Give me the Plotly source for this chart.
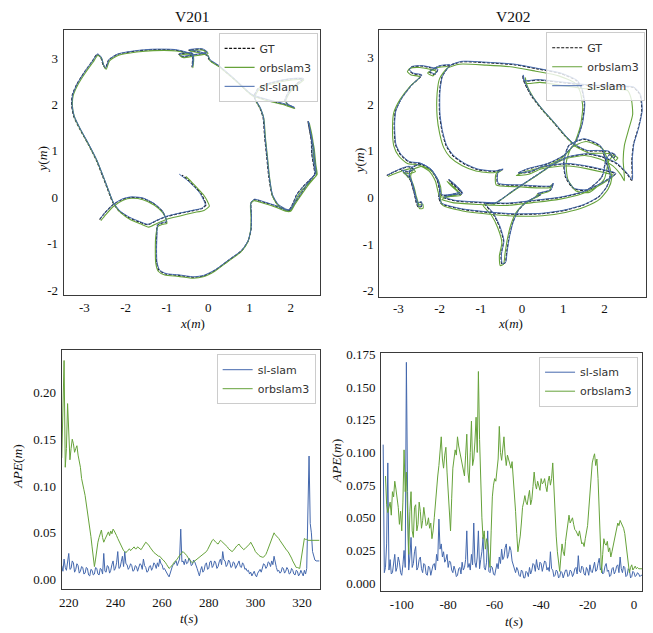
import plotly.graph_objects as go

# ---------------- trajectory data (x, y in metres) ----------------
V201_GT = [(-2.63,-0.48),(-2.51,-0.34),(-2.31,-0.16),(-2.07,-0.04),(-1.87,0.00),(-1.59,-0.02),(-1.31,-0.14),(-1.11,-0.30),(-1.03,-0.44),(-1.01,-0.53),(-1.11,-0.55),(-1.23,-0.60),
(-1.25,-0.83),(-1.26,-1.11),(-1.25,-1.40),(-1.19,-1.57),(-1.03,-1.65),(-0.71,-1.68),(-0.35,-1.72),(-0.11,-1.69),(0.17,-1.57),(0.49,-1.36),(0.81,-1.15),(0.97,-0.94),(1.04,-0.69),(1.05,-0.41),(1.04,-0.12),(1.12,-0.05),(1.37,-0.11),(1.65,-0.19),(1.89,-0.28),(2.00,-0.27),
(2.10,-0.12),(2.26,0.09),(2.42,0.30),(2.58,0.50),(2.56,0.66),(2.51,0.94),(2.50,1.22),(2.46,1.43),(2.42,1.63),(2.47,1.40),(2.54,1.08),(2.58,0.73),(2.60,0.51),(2.50,0.41),(2.30,0.23),(2.14,0.05),(2.06,-0.12),(1.95,-0.28),
(1.69,-0.16),(1.55,0.05),(1.47,0.44),(1.42,0.87),(1.37,1.29),(1.33,1.72),(1.25,1.93),(1.13,2.11),(1.12,2.20),(1.21,2.34),(1.37,2.42),(1.69,2.50),(2.02,2.55),(2.30,2.55),(2.14,2.44),(1.95,2.27),(1.86,2.08),(1.94,1.99),(2.08,1.93),(1.86,2.00),(1.46,2.09),(1.05,2.21),(0.65,2.53),(0.25,2.83),(0.03,2.96),
(-0.03,3.06),(-0.23,3.13),(-0.47,3.17),(-0.15,3.19),(-0.03,3.12),(-0.39,3.06),(-0.63,3.03),(-0.71,3.08),(-0.39,3.10),(-0.37,2.99),(-0.39,2.81),(-0.39,3.06),(-0.79,3.17),
(-1.35,3.18),(-1.75,3.15),(-2.19,3.08),(-2.41,2.96),(-2.49,2.78),(-2.55,2.86),(-2.60,3.01),(-2.69,3.08),(-2.81,2.93),(-2.99,2.71),(-3.18,2.44),(-3.29,2.21),(-3.31,2.00),(-3.26,1.75),(-3.11,1.47),(-2.91,1.15),(-2.71,0.80),(-2.55,0.44),(-2.43,0.16),(-2.31,-0.11),(-2.15,-0.30),(-1.91,-0.44),(-1.67,-0.53),(-1.47,-0.59),(-1.27,-0.51),(-1.03,-0.42),(-0.71,-0.35),(-0.39,-0.29),(-0.15,-0.24),(-0.05,-0.16),(-0.10,-0.05),(-0.17,0.08),(-0.31,0.22),(-0.47,0.36),(-0.63,0.48)]

V201_SL = [(-2.62,-0.46),(-2.50,-0.33),(-2.30,-0.15),(-2.07,-0.03),(-1.87,0.01),(-1.59,-0.01),(-1.31,-0.13),(-1.11,-0.29),(-1.03,-0.43),(-1.01,-0.52),(-1.10,-0.54),(-1.22,-0.59),
(-1.24,-0.82),(-1.25,-1.10),(-1.24,-1.39),(-1.18,-1.56),(-1.02,-1.64),(-0.70,-1.67),(-0.35,-1.71),(-0.11,-1.68),(0.17,-1.56),(0.49,-1.35),(0.81,-1.14),(0.97,-0.93),(1.04,-0.68),(1.05,-0.40),(1.04,-0.11),(1.12,-0.04),(1.37,-0.10),(1.65,-0.18),(1.89,-0.27),(2.00,-0.26),
(2.10,-0.11),(2.26,0.10),(2.42,0.31),(2.59,0.51),(2.57,0.67),(2.52,0.95),(2.51,1.23),(2.47,1.44),(2.43,1.64),(2.48,1.41),(2.55,1.09),(2.59,0.74),(2.61,0.52),(2.51,0.42),(2.31,0.24),(2.15,0.06),(2.07,-0.11),(1.96,-0.27),
(1.70,-0.15),(1.56,0.06),(1.48,0.45),(1.43,0.88),(1.38,1.30),(1.34,1.73),(1.26,1.94),(1.14,2.12),(1.13,2.21),(1.22,2.35),(1.38,2.43),(1.70,2.51),(2.03,2.56),(2.31,2.56),(2.15,2.45),(1.96,2.28),(1.87,2.09),(1.95,2.00),(2.09,1.94),(1.87,2.01),(1.47,2.10),(1.06,2.22),(0.66,2.54),(0.26,2.84),(0.04,2.97),
(-0.02,3.07),(-0.22,3.14),(-0.46,3.18),(-0.14,3.20),(-0.02,3.13),(-0.38,3.07),(-0.62,3.04),(-0.70,3.09),(-0.38,3.11),(-0.36,3.00),(-0.38,2.82),(-0.38,3.07),(-0.78,3.18),
(-1.34,3.19),(-1.74,3.16),(-2.18,3.09),(-2.40,2.97),(-2.48,2.79),(-2.54,2.87),(-2.59,3.02),(-2.68,3.09),(-2.80,2.94),(-2.98,2.72),(-3.17,2.45),(-3.28,2.22),(-3.30,2.01),(-3.25,1.76),(-3.10,1.48),(-2.90,1.16),(-2.70,0.81),(-2.54,0.45),(-2.42,0.17),(-2.30,-0.10),(-2.14,-0.29),(-1.90,-0.43),(-1.66,-0.52),(-1.46,-0.58),(-1.26,-0.50),(-1.02,-0.41),(-0.70,-0.34),(-0.38,-0.28),(-0.14,-0.23),(-0.07,-0.15),(-0.12,-0.04),(-0.20,0.09),(-0.35,0.24),(-0.52,0.38),(-0.70,0.50)]

V201_ORB = [(-2.60,-0.50),(-2.48,-0.37),(-2.29,-0.19),(-2.06,-0.06),(-1.86,-0.02),(-1.58,-0.05),(-1.30,-0.17),(-1.10,-0.33),(-1.02,-0.47),(-1.00,-0.56),(-1.10,-0.58),(-1.22,-0.63),
(-1.27,-0.85),(-1.28,-1.12),(-1.27,-1.41),(-1.21,-1.59),(-1.05,-1.67),(-0.72,-1.70),(-0.36,-1.74),(-0.12,-1.71),(0.16,-1.59),(0.48,-1.38),(0.80,-1.17),(0.96,-0.96),(1.03,-0.71),(1.04,-0.43),(1.03,-0.14),(1.11,-0.07),(1.36,-0.13),(1.64,-0.21),(1.88,-0.30),(2.00,-0.30),
(2.11,-0.14),(2.27,0.07),(2.44,0.28),(2.62,0.48),(2.60,0.64),(2.55,0.92),(2.54,1.20),(2.50,1.41),(2.45,1.60),(2.50,1.37),(2.57,1.05),(2.61,0.70),(2.64,0.49),(2.53,0.39),(2.33,0.21),(2.17,0.03),(2.08,-0.14),(1.97,-0.30),
(1.70,-0.18),(1.56,0.03),(1.49,0.42),(1.44,0.85),(1.39,1.27),(1.35,1.70),(1.27,1.91),(1.15,2.09),(1.14,2.18),(1.23,2.32),(1.39,2.40),(1.71,2.48),(2.04,2.53),(2.32,2.53),(2.16,2.42),(1.97,2.25),(1.88,2.06),(1.96,1.97),(2.10,1.91),(1.88,1.98),(1.48,2.07),(1.07,2.19),(0.67,2.51),(0.27,2.81),(0.05,2.94),
(0.00,3.05),(-0.21,3.11),(-0.45,3.15),(-0.13,3.17),(0.00,3.10),(-0.37,3.04),(-0.61,3.01),(-0.69,3.06),(-0.37,3.08),(-0.35,2.97),(-0.37,2.79),(-0.37,3.04),(-0.77,3.15),
(-1.33,3.16),(-1.73,3.13),(-2.17,3.06),(-2.39,2.94),(-2.47,2.76),(-2.53,2.84),(-2.58,2.99),(-2.67,3.06),(-2.79,2.91),(-2.97,2.69),(-3.16,2.42),(-3.27,2.19),(-3.29,1.98),(-3.24,1.73),(-3.09,1.45),(-2.89,1.13),(-2.69,0.78),(-2.53,0.42),(-2.41,0.14),(-2.29,-0.13),(-2.12,-0.33),(-1.88,-0.48),(-1.64,-0.57),(-1.44,-0.64),(-1.24,-0.56),(-1.00,-0.47),(-0.68,-0.40),(-0.36,-0.33),(-0.10,-0.28),(0.03,-0.19),(-0.02,-0.08),(-0.10,0.04),(-0.25,0.19),(-0.40,0.33),(-0.54,0.45)]

V202_GT = [(-3.28,0.47),(-3.10,0.55),(-2.92,0.62),(-2.75,0.66),(-2.62,0.60),(-2.78,0.55),(-2.92,0.58),(-2.80,0.48),(-2.70,0.36),(-2.64,0.20),(-2.60,0.03),(-2.57,-0.10),(-2.52,-0.20),(-2.44,-0.19),(-2.45,-0.10),(-2.53,-0.12),(-2.60,0.05),(-2.68,0.30),(-2.74,0.50),(-2.68,0.64),
(-2.44,0.71),(-2.20,0.58),(-2.05,0.37),(-2.00,0.16),(-2.02,0.01),
(-1.96,-0.13),(-1.48,-0.25),(-0.83,-0.32),(-0.19,-0.36),(0.45,-0.35),(1.01,-0.28),(1.49,-0.16),(1.85,0.01),(2.05,0.23),(2.13,0.44),
(2.06,0.70),(1.89,1.10),(1.49,1.25),(1.13,1.11),(1.01,0.79),(1.05,0.44),(1.25,0.19),(1.57,0.16),(1.93,0.44),(2.04,0.83),(2.16,0.95),(2.26,0.90),(2.20,0.84),
(2.10,0.98),(1.81,1.00),(1.57,1.00),(1.25,1.14),(1.01,1.35),(0.77,1.60),(0.45,1.92),(0.21,2.20),(0.05,2.48),(0.02,2.62),(0.04,2.50),
(0.37,2.52),(0.93,2.47),(1.57,2.41),(2.22,2.38),(2.70,2.36),(2.86,2.20),(2.90,1.85),(2.82,1.50),(2.70,1.14),(2.66,0.79),(2.66,0.37),
(2.54,0.51),(2.30,0.72),(1.97,0.86),(1.57,0.93),(1.09,0.86),(0.77,0.72),(0.29,0.44),(-0.19,0.16),(-0.67,-0.13),(-0.91,-0.13),
(-0.71,-0.34),(-0.55,-0.62),(-0.45,-0.94),(-0.51,-1.22),(-0.49,-1.43),(-0.41,-1.40),(-0.37,-1.15),(-0.31,-0.83),(-0.23,-0.55),(-0.11,-0.30),(0.06,-0.13),(0.37,0.03),(0.45,0.06),(0.38,0.08),(0.69,0.16),(0.75,0.30),
(0.70,0.24),(-0.03,0.26),(-0.59,0.30),(-0.59,0.54),(-0.47,0.60),
(-0.67,0.56),(-1.08,0.60),(-1.40,0.72),(-1.68,0.90),(-1.84,1.11),(-1.94,1.42),(-2.00,1.78),(-2.00,2.27),(-1.94,2.59),(-1.76,2.82),(-1.48,2.91),(-0.83,2.89),(-0.19,2.85),(0.37,2.76),(0.93,2.66),(1.33,2.50),(1.45,2.31),(1.51,1.99),(1.45,1.57),(1.29,1.18),(1.01,0.90),(0.61,0.72),(0.13,0.61),(-0.10,0.52),(0.20,0.55),(0.50,0.66),
(1.10,0.72),(1.60,0.66),(2.00,0.58),(2.26,0.51),
(1.97,0.33),(1.49,0.12),(0.93,0.00),(0.29,-0.07),(-0.35,-0.13),(-1.00,-0.11),(-1.64,-0.07),(-1.90,0.00),
(-1.70,0.05),(-1.45,0.08),(-1.55,0.20),(-1.78,0.38),(-1.70,0.30),(-1.50,0.12),
(-1.95,0.05),(-2.06,0.38),(-2.22,0.60),(-2.48,0.73),(-2.74,0.76),(-2.95,0.92),(-3.07,1.14),(-3.10,1.57),(-3.07,1.85),(-2.92,2.13),(-2.68,2.41),(-2.44,2.62),(-2.65,2.66),(-2.74,2.73),(-2.68,2.80),(-2.44,2.82),(-2.20,2.78),(-2.05,2.74),(-2.12,2.64),(-2.25,2.70),(-2.00,2.82),(-1.76,2.84)]

V202_SL = [(-3.27,0.48),(-3.09,0.56),(-2.91,0.63),(-2.74,0.67),(-2.61,0.61),(-2.77,0.56),(-2.91,0.59),(-2.79,0.49),(-2.69,0.37),(-2.63,0.21),(-2.59,0.04),(-2.56,-0.09),(-2.51,-0.19),(-2.43,-0.18),(-2.44,-0.09),(-2.52,-0.11),(-2.59,0.06),(-2.67,0.31),(-2.73,0.51),(-2.67,0.65),
(-2.43,0.72),(-2.19,0.59),(-2.04,0.38),(-1.99,0.17),(-2.01,0.02),
(-1.95,-0.12),(-1.47,-0.24),(-0.82,-0.31),(-0.18,-0.35),(0.46,-0.34),(1.02,-0.27),(1.50,-0.15),(1.86,0.02),(2.06,0.24),(2.14,0.45),
(2.07,0.71),(1.90,1.11),(1.50,1.26),(1.14,1.12),(1.02,0.80),(1.06,0.45),(1.26,0.20),(1.58,0.17),(1.94,0.45),(2.05,0.84),(2.17,0.96),(2.27,0.91),(2.21,0.85),
(2.11,0.99),(1.82,1.01),(1.58,1.01),(1.26,1.15),(1.02,1.36),(0.78,1.61),(0.46,1.93),(0.22,2.21),(0.06,2.49),(0.03,2.63),(0.05,2.51),
(0.38,2.53),(0.94,2.48),(1.58,2.42),(2.23,2.39),(2.71,2.37),(2.87,2.21),(2.91,1.86),(2.83,1.51),(2.71,1.15),(2.67,0.80),(2.67,0.38),
(2.55,0.52),(2.31,0.73),(1.98,0.87),(1.58,0.94),(1.10,0.87),(0.78,0.73),(0.30,0.45),(-0.18,0.17),(-0.66,-0.12),(-0.90,-0.12),
(-0.70,-0.33),(-0.54,-0.61),(-0.44,-0.93),(-0.50,-1.21),(-0.48,-1.42),(-0.40,-1.39),(-0.36,-1.14),(-0.30,-0.82),(-0.22,-0.54),(-0.10,-0.29),(0.07,-0.12),(0.38,0.04),(0.46,0.07),(0.39,0.09),(0.70,0.17),(0.76,0.31),
(0.71,0.25),(-0.02,0.27),(-0.58,0.31),(-0.58,0.55),(-0.46,0.61),
(-0.66,0.57),(-1.07,0.61),(-1.39,0.73),(-1.67,0.91),(-1.83,1.12),(-1.93,1.43),(-1.99,1.79),(-1.99,2.28),(-1.93,2.60),(-1.75,2.83),(-1.47,2.92),(-0.82,2.90),(-0.18,2.86),(0.38,2.77),(0.94,2.67),(1.34,2.51),(1.46,2.32),(1.52,2.00),(1.46,1.58),(1.30,1.19),(1.02,0.91),(0.62,0.73),(0.14,0.62),(-0.09,0.53),(0.21,0.56),(0.51,0.67),
(1.11,0.73),(1.61,0.67),(2.01,0.59),(2.27,0.52),
(1.98,0.34),(1.50,0.13),(0.94,0.01),(0.30,-0.06),(-0.34,-0.12),(-0.99,-0.10),(-1.63,-0.06),(-1.89,0.01),
(-1.69,0.06),(-1.44,0.09),(-1.54,0.21),(-1.77,0.39),(-1.69,0.31),(-1.49,0.13),
(-1.94,0.06),(-2.05,0.39),(-2.21,0.61),(-2.47,0.74),(-2.73,0.77),(-2.94,0.93),(-3.06,1.15),(-3.09,1.58),(-3.06,1.86),(-2.91,2.14),(-2.67,2.42),(-2.43,2.63),(-2.64,2.67),(-2.73,2.74),(-2.67,2.81),(-2.43,2.83),(-2.19,2.79),(-2.04,2.75),(-2.11,2.65),(-2.24,2.71),(-1.99,2.83),(-1.75,2.85)]

V202_ORB = [(-3.25,0.45),(-3.06,0.52),(-2.88,0.58),(-2.70,0.62),(-2.58,0.56),(-2.74,0.51),(-2.88,0.54),(-2.76,0.44),(-2.66,0.32),(-2.60,0.16),(-2.56,-0.01),(-2.53,-0.14),(-2.48,-0.24),(-2.40,-0.23),(-2.41,-0.14),(-2.49,-0.16),(-2.56,0.01),(-2.64,0.26),(-2.70,0.46),(-2.64,0.60),
(-2.40,0.67),(-2.16,0.54),(-2.01,0.33),(-1.96,0.12),(-1.98,-0.03),
(-1.92,-0.17),(-1.44,-0.29),(-0.79,-0.36),(-0.15,-0.40),(0.49,-0.39),(1.05,-0.32),(1.53,-0.20),(1.89,-0.03),(2.09,0.19),(2.17,0.40),
(2.12,0.66),(1.95,1.05),(1.55,1.20),(1.19,1.06),(1.07,0.74),(1.11,0.39),(1.31,0.14),(1.63,0.11),(1.99,0.39),(2.10,0.78),(2.22,0.90),(2.32,0.85),(2.26,0.79),
(2.16,0.93),(1.87,0.95),(1.63,0.95),(1.31,1.09),(1.07,1.30),(0.83,1.55),(0.51,1.87),(0.27,2.15),(0.11,2.43),(0.08,2.57),(0.10,2.45),
(0.43,2.47),(0.99,2.40),(1.60,2.33),(2.20,2.32),(2.55,2.30),(2.65,2.10),(2.68,1.78),(2.58,1.45),(2.48,1.12),(2.45,0.80),(2.48,0.36),
(2.40,0.48),(2.20,0.68),(1.90,0.82),(1.52,0.90),(1.05,0.83),(0.73,0.69),(0.25,0.41),(-0.23,0.13),(-0.71,-0.16),(-0.95,-0.16),
(-0.75,-0.37),(-0.59,-0.65),(-0.49,-0.97),(-0.55,-1.25),(-0.53,-1.46),(-0.45,-1.43),(-0.41,-1.18),(-0.35,-0.86),(-0.27,-0.58),(-0.15,-0.33),(0.02,-0.16),(0.33,0.00),(0.41,0.03),(0.34,0.05),(0.65,0.13),(0.71,0.27),
(0.66,0.21),(-0.07,0.23),(-0.63,0.27),(-0.63,0.51),(-0.51,0.57),
(-0.71,0.53),(-1.12,0.57),(-1.45,0.68),(-1.74,0.86),(-1.90,1.07),(-2.00,1.38),(-2.06,1.74),(-2.06,2.23),(-2.00,2.55),(-1.82,2.77),(-1.52,2.86),(-0.87,2.84),(-0.23,2.80),(0.33,2.71),(0.89,2.61),(1.29,2.45),(1.41,2.26),(1.47,1.94),(1.41,1.52),(1.25,1.13),(0.97,0.85),(0.57,0.67),(0.09,0.56),(-0.14,0.47),(0.16,0.50),(0.46,0.61),
(1.06,0.68),(1.56,0.62),(1.96,0.54),(2.22,0.47),
(1.93,0.29),(1.45,0.08),(0.89,-0.04),(0.25,-0.11),(-0.39,-0.17),(-1.04,-0.15),(-1.68,-0.11),(-1.94,-0.04),
(-1.74,0.02),(-1.49,0.05),(-1.59,0.17),(-1.82,0.35),(-1.74,0.27),(-1.54,0.09),
(-1.99,0.02),(-2.10,0.35),(-2.26,0.57),(-2.52,0.70),(-2.78,0.73),(-2.99,0.89),(-3.11,1.11),(-3.14,1.54),(-3.11,1.82),(-2.96,2.10),(-2.72,2.38),(-2.48,2.59),(-2.69,2.63),(-2.78,2.70),(-2.72,2.77),(-2.48,2.79),(-2.24,2.75),(-2.09,2.71),(-2.16,2.61),(-2.29,2.67),(-2.04,2.79),(-1.80,2.81)]

# ---------------- APE data (metres), one sample every 0.5 s ----------------
T_STEP = 0.5
V201_T_START = 217.0
V201_APE_SL = [0.015,0.009,0.022,0.013,0.010,0.019,0.028,0.011,0.012,0.020,0.018,0.008,0.011,0.017,0.015,0.007,0.009,0.014,0.013,0.006,
0.007,0.013,0.012,0.005,0.004,0.011,0.010,0.005,0.006,0.013,0.012,0.006,0.005,0.012,0.011,0.006,0.028,0.009,0.008,0.015,
0.014,0.007,0.010,0.016,0.020,0.010,0.012,0.018,0.030,0.012,0.013,0.019,0.025,0.014,0.030,0.017,0.016,0.011,0.013,0.017,
0.015,0.009,0.010,0.015,0.014,0.009,0.012,0.017,0.016,0.011,0.022,0.015,0.013,0.008,0.009,0.014,0.015,0.010,0.013,0.018,
0.016,0.012,0.018,0.014,0.022,0.017,0.016,0.011,0.012,0.009,0.008,0.005,0.003,0.008,0.012,0.015,0.016,0.019,0.020,0.015,
0.018,0.022,0.054,0.019,0.020,0.016,0.022,0.017,0.018,0.023,0.021,0.015,0.016,0.021,0.019,0.014,0.012,0.008,0.004,0.010,
0.014,0.008,0.010,0.016,0.018,0.011,0.012,0.019,0.020,0.013,0.015,0.020,0.018,0.012,0.014,0.019,0.022,0.016,0.030,0.021,
0.020,0.014,0.016,0.021,0.019,0.013,0.014,0.019,0.018,0.012,0.015,0.019,0.020,0.014,0.013,0.018,0.016,0.011,0.012,0.009,
0.010,0.006,0.008,0.004,0.006,0.009,0.005,0.003,0.007,0.010,0.011,0.008,0.013,0.017,0.016,0.012,0.014,0.019,0.018,0.014,
0.020,0.016,0.025,0.017,0.013,0.009,0.010,0.007,0.008,0.013,0.012,0.007,0.009,0.013,0.011,0.006,0.007,0.012,0.010,0.006,
0.005,0.010,0.009,0.004,0.006,0.010,0.007,0.004,0.010,0.006,0.012,0.080,0.132,0.060,0.050,0.030,0.025,0.021,0.020,0.020,
0.020,0.020]
V201_APE_ORB = [0.130,0.205,0.234,0.120,0.140,0.188,0.145,0.128,0.140,0.150,0.145,0.136,0.140,0.143,0.133,0.126,0.120,0.108,0.100,0.096,
0.090,0.082,0.075,0.064,0.055,0.046,0.035,0.024,0.014,0.022,0.032,0.040,0.045,0.050,0.053,0.045,0.040,0.043,0.046,0.049,
0.051,0.047,0.052,0.049,0.054,0.052,0.050,0.047,0.044,0.041,0.038,0.035,0.033,0.031,0.030,0.029,0.030,0.032,0.033,0.031,
0.032,0.034,0.035,0.033,0.033,0.035,0.034,0.032,0.032,0.034,0.036,0.038,0.040,0.039,0.038,0.036,0.034,0.032,0.030,0.029,
0.028,0.027,0.026,0.025,0.025,0.023,0.022,0.021,0.020,0.018,0.016,0.014,0.012,0.013,0.014,0.016,0.018,0.019,0.020,0.022,
0.024,0.026,0.028,0.029,0.030,0.029,0.028,0.026,0.024,0.022,0.020,0.019,0.018,0.019,0.020,0.021,0.022,0.022,0.023,0.024,
0.025,0.027,0.028,0.029,0.030,0.032,0.035,0.038,0.040,0.042,0.043,0.041,0.040,0.039,0.038,0.040,0.042,0.041,0.040,0.038,
0.037,0.036,0.035,0.033,0.032,0.031,0.030,0.031,0.033,0.035,0.036,0.037,0.038,0.036,0.035,0.033,0.032,0.033,0.034,0.035,
0.037,0.038,0.040,0.038,0.036,0.033,0.030,0.029,0.028,0.026,0.025,0.024,0.024,0.024,0.025,0.027,0.030,0.033,0.036,0.039,
0.042,0.046,0.050,0.048,0.047,0.045,0.044,0.042,0.040,0.038,0.036,0.034,0.033,0.031,0.030,0.028,0.026,0.023,0.020,0.017,
0.014,0.013,0.013,0.012,0.012,0.020,0.030,0.038,0.044,0.043,0.043,0.042,0.042,0.042,0.042,0.042,0.042,0.042,0.042,0.042,
0.042,0.042]

V202_T_START = -108.0
V202_APE_SL = [0.106,0.008,0.012,0.030,0.092,0.010,0.018,0.007,0.008,0.015,0.022,0.009,0.012,0.020,0.016,0.008,0.006,0.014,0.025,0.012,
0.169,0.070,0.010,0.020,0.035,0.012,0.015,0.024,0.028,0.010,0.012,0.018,0.020,0.011,0.008,0.015,0.014,0.007,0.006,0.013,
0.012,0.006,0.009,0.014,0.015,0.010,0.022,0.017,0.049,0.026,0.030,0.020,0.024,0.016,0.018,0.022,0.012,0.017,0.016,0.010,
0.008,0.013,0.010,0.005,0.006,0.011,0.012,0.007,0.016,0.010,0.012,0.018,0.040,0.012,0.015,0.010,0.022,0.014,0.046,0.016,
0.012,0.020,0.040,0.011,0.018,0.024,0.035,0.012,0.010,0.016,0.040,0.009,0.008,0.013,0.012,0.007,0.006,0.012,0.015,0.011,
0.020,0.015,0.026,0.018,0.020,0.027,0.030,0.019,0.022,0.028,0.025,0.017,0.014,0.010,0.008,0.012,0.010,0.006,0.005,0.010,
0.009,0.004,0.004,0.009,0.008,0.005,0.012,0.007,0.010,0.015,0.014,0.009,0.018,0.012,0.010,0.016,0.015,0.009,0.012,0.017,
0.016,0.010,0.012,0.009,0.024,0.011,0.010,0.005,0.006,0.010,0.009,0.004,0.005,0.009,0.008,0.004,0.007,0.010,0.010,0.005,
0.006,0.010,0.009,0.005,0.007,0.011,0.012,0.007,0.021,0.009,0.008,0.013,0.012,0.007,0.006,0.012,0.010,0.006,0.014,0.009,
0.008,0.013,0.016,0.009,0.010,0.015,0.019,0.010,0.012,0.007,0.008,0.013,0.015,0.009,0.010,0.005,0.006,0.011,0.012,0.007,
0.009,0.013,0.014,0.008,0.020,0.011,0.008,0.013,0.012,0.005,0.006,0.011,0.010,0.004,0.005,0.009,0.008,0.005,0.006,0.008,
0.007,0.005,0.006,0.006]
V202_APE_ORB = [None,None,0.082,0.060,0.054,0.058,0.062,0.052,0.070,0.066,0.078,0.072,0.065,0.058,0.045,0.055,0.040,0.062,0.102,0.070,
0.085,0.048,0.022,0.055,0.070,0.040,0.035,0.058,0.060,0.040,0.045,0.062,0.055,0.042,0.048,0.058,0.050,0.044,0.045,0.050,
0.042,0.046,0.034,0.040,0.050,0.062,0.075,0.082,0.090,0.100,0.112,0.095,0.088,0.098,0.104,0.085,0.070,0.052,0.040,0.065,
0.088,0.095,0.102,0.098,0.112,0.105,0.100,0.094,0.090,0.086,0.082,0.098,0.114,0.085,0.077,0.100,0.124,0.090,0.095,0.108,
0.127,0.100,0.162,0.110,0.070,0.050,0.034,0.040,0.026,0.034,0.030,0.020,0.012,0.040,0.066,0.075,0.080,0.078,0.085,0.095,
0.120,0.100,0.094,0.104,0.112,0.098,0.090,0.098,0.095,0.090,0.088,0.093,0.082,0.070,0.055,0.038,0.024,0.030,0.036,0.046,
0.058,0.062,0.067,0.062,0.060,0.066,0.071,0.060,0.064,0.074,0.085,0.076,0.072,0.078,0.075,0.071,0.080,0.076,0.077,0.080,
0.074,0.070,0.078,0.082,0.075,0.080,0.092,0.070,0.050,0.036,0.024,0.015,0.009,0.020,0.030,0.024,0.021,0.032,0.040,0.048,
0.052,0.046,0.048,0.050,0.045,0.041,0.040,0.038,0.036,0.040,0.034,0.030,0.031,0.028,0.034,0.038,0.044,0.056,0.070,0.082,
0.092,0.096,0.099,0.090,0.095,0.080,0.060,0.030,0.008,0.022,0.034,0.030,0.029,0.032,0.024,0.027,0.020,0.024,0.028,0.034,
0.038,0.042,0.046,0.044,0.048,0.046,0.044,0.042,0.038,0.030,0.021,0.012,0.008,0.012,0.014,0.010,0.012,0.013,0.011,0.012,
0.011,0.011,0.011,0.011]

V201_T = [V201_T_START + T_STEP * i for i in range(len(V201_APE_SL))]
V202_T = [V202_T_START + T_STEP * i for i in range(len(V202_APE_SL))]

# ---------------- styling ----------------
GREEN = "#66a23a"
BLUE = "#4468ad"
SERIF = "Liberation Serif"
SANS = "DejaVu Sans"
FRAME = "#3a3a3a"
INK = "#111111"


def xs(p):
    return [a for a, _ in p]


def ys(p):
    return [b for _, b in p]


fig = go.Figure()

for gt, orb, sl, ax, lg in [(V201_GT, V201_ORB, V201_SL, "", "legend"),
                            (V202_GT, V202_ORB, V202_SL, "2", "legend2")]:
    fig.add_trace(go.Scatter(x=xs(gt), y=ys(gt), mode="lines", name="GT",
                             line=dict(color=INK, width=1.1, dash="3px,1.5px", shape="spline", smoothing=0.6),
                             xaxis="x" + ax, yaxis="y" + ax, legend=lg))
    fig.add_trace(go.Scatter(x=xs(orb), y=ys(orb), mode="lines", name="orbslam3",
                             line=dict(color=GREEN, width=1.1, shape="spline", smoothing=0.6),
                             xaxis="x" + ax, yaxis="y" + ax, legend=lg))
    fig.add_trace(go.Scatter(x=xs(sl), y=ys(sl), mode="lines", name="sl-slam",
                             line=dict(color=BLUE, width=1.0, shape="spline", smoothing=0.6),
                             xaxis="x" + ax, yaxis="y" + ax, legend=lg))

for t, sl, orb, ax, lg in [(V201_T, V201_APE_SL, V201_APE_ORB, "3", "legend3"),
                           (V202_T, V202_APE_SL, V202_APE_ORB, "4", "legend4")]:
    fig.add_trace(go.Scatter(x=t, y=sl, mode="lines", name="sl-slam",
                             line=dict(color=BLUE, width=1.0),
                             xaxis="x" + ax, yaxis="y" + ax, legend=lg))
    fig.add_trace(go.Scatter(x=t, y=orb, mode="lines", name="orbslam3",
                             line=dict(color=GREEN, width=1.0),
                             xaxis="x" + ax, yaxis="y" + ax, legend=lg))


def axis(domain, rng, anchor, tickvals, ticktext, ticklen):
    d = dict(domain=domain, range=rng, anchor=anchor, tickvals=tickvals, ticktext=ticktext,
             showline=True, mirror=True, linecolor=FRAME, linewidth=1.2,
             showgrid=False, zeroline=False,
             tickfont=dict(family=SERIF, size=13, color=INK))
    if ticklen > 0:
        d.update(ticks="outside", ticklen=ticklen, tickcolor="rgba(0,0,0,0)")
    else:
        d.update(ticks="")
    return d


def nums(vals, fmt):
    return [fmt.format(v) for v in vals]


XT = [-3, -2, -1, 0, 1, 2]
YT = [-2, -1, 0, 1, 2, 3]
bl_y = [0, 0.05, 0.10, 0.15, 0.20]
br_y = [0, 0.025, 0.05, 0.075, 0.1, 0.125, 0.15, 0.175]
bl_x = [220, 240, 260, 280, 300, 320]
br_x = [-100, -80, -60, -40, -20, 0]

leg_common = dict(bgcolor="rgba(255,255,255,0.8)", bordercolor="#cccccc", borderwidth=1,
                  font=dict(family=SANS, size=11, color="#333333"), xanchor="right", yanchor="top",
                  tracegroupgap=0, itemwidth=30)


def label(text, x, y, angle=0, size=13.5):
    return dict(text=text, x=x, y=y, xref="paper", yref="paper", showarrow=False, textangle=angle,
                font=dict(family=SERIF, size=size, color=INK), xanchor="center", yanchor="middle")


XLAB = "<i>x</i>(<i>m</i>)"
YLAB = "<i>y</i>(<i>m</i>)"
APE = "<i>APE</i>(<i>m</i>)"
TLAB = "<i>t</i>(<i>s</i>)"

fig.update_layout(
    width=653, height=633, margin=dict(l=0, r=0, t=0, b=0),
    paper_bgcolor="white", plot_bgcolor="white", showlegend=True,
    xaxis=axis([0.0934, 0.487], [-3.50, 2.70], "y", XT, nums(XT, "{}"), 0),
    yaxis=axis([0.537, 0.962], [-2.10, 3.61], "x", YT, nums(YT, "{}"), 2),
    xaxis2=axis([0.579, 0.989], [-3.46, 3.00], "y2", XT, nums(XT, "{}"), 0),
    yaxis2=axis([0.534, 0.962], [-2.13, 3.60], "x2", YT, nums(YT, "{}"), 2),
    xaxis3=axis([0.0904, 0.487], [217.0, 327.5], "y3", bl_x, nums(bl_x, "{}"), 2),
    yaxis3=axis([0.0664, 0.449], [-0.0095, 0.2454], "x3", bl_y, nums(bl_y, "{:.2f}"), 2),
    xaxis4=axis([0.582, 0.983], [-108.8, 3.4], "y4", br_x, nums(br_x, "{}"), 2),
    yaxis4=axis([0.0632, 0.444], [-0.0057, 0.1762], "x4", br_y, nums(br_y, "{:.3f}"), 2),
    legend=dict(x=0.484, y=0.957, **leg_common),
    legend2=dict(x=0.988, y=0.958, **leg_common),
    legend3=dict(x=0.481, y=0.442, **leg_common),
    legend4=dict(x=0.977, y=0.438, **leg_common),
    annotations=[
        label("V201", 0.290, 0.983, size=15.5),
        label("V202", 0.784, 0.983, size=15.5),
        label(XLAB, 0.291, 0.491, size=13),
        label(YLAB, 0.0613, 0.755, angle=-90),
        label(XLAB, 0.780, 0.491, size=13),
        label(YLAB, 0.549, 0.752, angle=-90),
        label(TLAB, 0.286, 0.019),
        label(APE, 0.023, 0.263, angle=-90),
        label(TLAB, 0.786, 0.014),
        label(APE, 0.513, 0.271, angle=-90),
    ],
)

fig.write_html("out.html", config={"displayModeBar": False},
               post_script="document.body.style.margin='0px';document.body.style.padding='0px';")
